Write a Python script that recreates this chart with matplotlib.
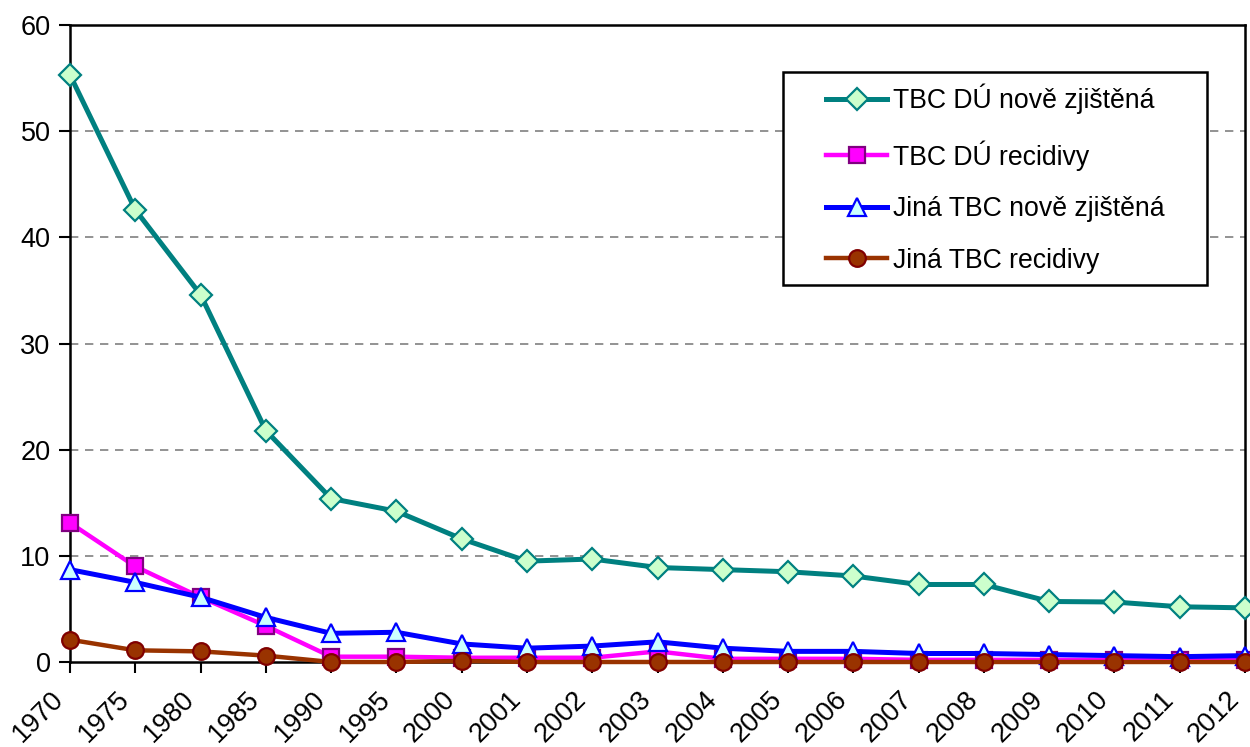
import matplotlib.pyplot as plt
import matplotlib.transforms as mtransforms
from matplotlib.patches import Rectangle

years = ["1970", "1975", "1980", "1985", "1990", "1995", "2000", "2001", "2002",
         "2003", "2004", "2005", "2006", "2007", "2008", "2009", "2010", "2011", "2012"]

tbc_du_nove = [55.3, 42.6, 34.6, 21.8, 15.4, 14.2, 11.6, 9.5, 9.7,
               8.9, 8.7, 8.5, 8.1, 7.3, 7.3, 5.7, 5.65, 5.2, 5.1]
tbc_du_recid = [13.1, 9.0, 6.1, 3.4, 0.5, 0.5, 0.4, 0.4, 0.4,
                1.0, 0.3, 0.3, 0.3, 0.2, 0.2, 0.2, 0.2, 0.2, 0.2]
jina_nove = [8.7, 7.5, 6.1, 4.2, 2.7, 2.8, 1.7, 1.3, 1.5,
             1.9, 1.3, 1.0, 1.0, 0.8, 0.8, 0.7, 0.6, 0.5, 0.6]
jina_recid = [2.1, 1.1, 1.0, 0.6, 0.0, 0.0, 0.1, 0.0, 0.0,
              0.0, 0.0, 0.0, 0.0, 0.0, 0.0, 0.0, 0.0, 0.0, 0.0]

plt.rcParams['font.family'] = ['Liberation Sans', 'DejaVu Sans']

fig = plt.figure(figsize=(12.5, 7.47), dpi=100)
ax = fig.add_axes([0.056, 0.1138, 0.94, 0.8527])

x = range(len(years))

ax.plot(x, tbc_du_nove, color="#008080", lw=3.6, marker="D", ms=11.5,
        mfc="#CCFFCC", mec="#008080", mew=1.6, label="TBC DÚ nově zjištěná",
        clip_on=False, zorder=5)
ax.plot(x, tbc_du_recid, color="#FF00FF", lw=3.2, marker="s", ms=12,
        mfc="#FF00FF", mec="#800080", mew=1.6, label="TBC DÚ recidivy",
        clip_on=False, zorder=4)
ax.plot(x, jina_nove, color="#0000FF", lw=3.6, marker="^", ms=13,
        mfc="#CCFFFF", mec="#0000FF", mew=1.6, label="Jiná TBC nově zjištěná",
        clip_on=False, zorder=6)
ax.plot(x, jina_recid, color="#993300", lw=3.2, marker="o", ms=12,
        mfc="#993300", mec="#800000", mew=1.6, label="Jiná TBC recidivy",
        clip_on=False, zorder=7)

ax.set_xlim(0, len(years) - 1)
ax.set_ylim(0, 60)
ax.set_yticks(range(0, 61, 10))
ax.set_xticks(list(x))
ax.set_xticklabels(years, rotation=45, ha="right", va="center",
                   rotation_mode="anchor")
ax.tick_params(axis="both", labelsize=19.5, direction="out", length=8,
               width=1.5, colors="black")
ax.tick_params(axis="y", pad=6)
ax.tick_params(axis="x", pad=16)
shift = mtransforms.ScaledTranslation(-10 / 100, 0, fig.dpi_scale_trans)
for lab in ax.get_xticklabels():
    lab.set_transform(lab.get_transform() + shift)

for s in ax.spines.values():
    s.set_linewidth(1.8)
    s.set_color("black")

for v in range(10, 60, 10):
    ax.axhline(v, color="#808080", lw=1.2, ls=(0, (5, 4)), zorder=1)

# legend frame drawn separately so the inner padding can match
fig.patches.append(Rectangle((783 / 1250, 1 - 285 / 747), (1207 - 783) / 1250,
                             (285 - 72) / 747, transform=fig.transFigure,
                             fill=True, facecolor="white", edgecolor="black",
                             lw=1.8, zorder=3))

leg = ax.legend(loc="upper left", bbox_to_anchor=(826 / 1250, 1 - 84 / 747),
                bbox_transform=fig.transFigure, borderaxespad=0, borderpad=0,
                fontsize=19.2, frameon=False, handlelength=2.3,
                handletextpad=0.2, labelspacing=0.96)
leg.set_zorder(10)
fig.legends.append(leg)
ax.legend_ = None

fig.savefig("out.png", dpi=100)
